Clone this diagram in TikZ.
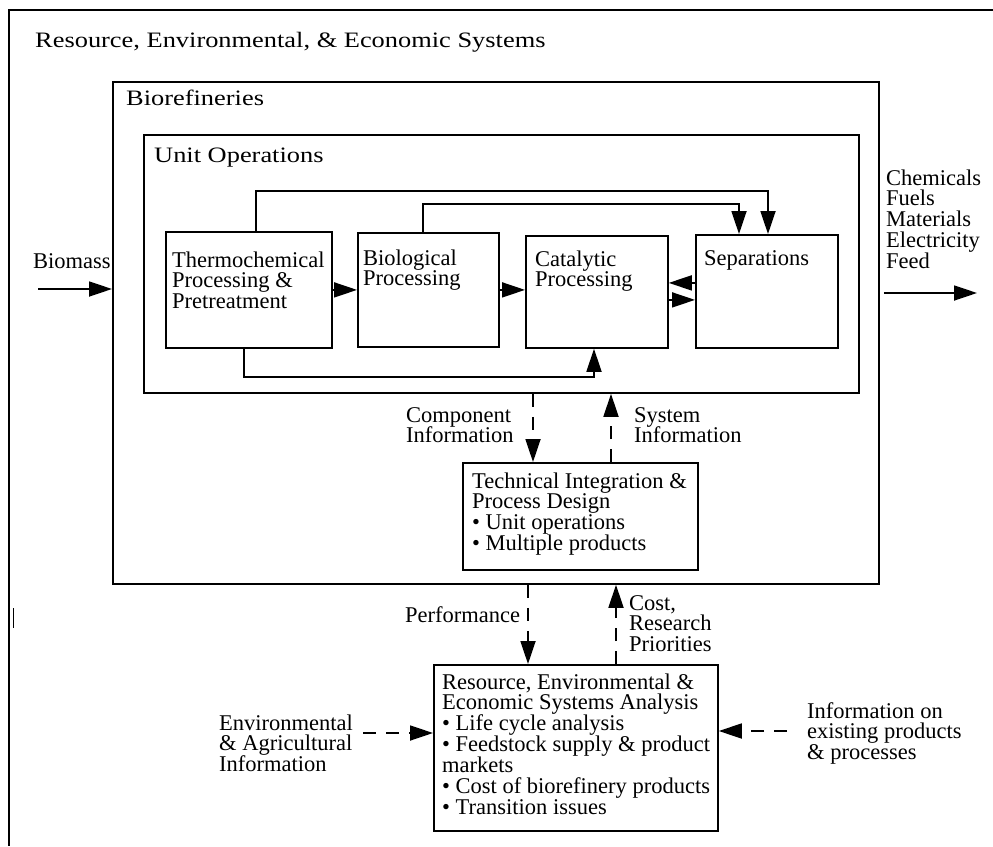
\documentclass[tikz,border=0pt]{standalone}
\usepackage{fontspec}
\setmainfont{Liberation Serif}
\newfontfamily\headfont[FakeStretch=1.2]{Liberation Serif}
\usetikzlibrary{arrows.meta,calc}
\newcommand\mlines[1]{\vtop{\halign{##\hfil\cr#1\crcr}}}
\tikzset{
  box/.style={draw, line width=1.8pt, anchor=north west, inner sep=0pt},
  txt/.style={anchor=base west, inner sep=0pt, font=\fontsize{22.5}{20.9}\selectfont},
  head/.style={anchor=base west, inner sep=0pt, font=\headfont\fontsize{22}{24}\selectfont},
  arr/.style={line width=1.8pt, -{Triangle[length=23pt,width=15pt]}},
  darr/.style={arr, dash pattern=on 13pt off 10pt},
  line/.style={line width=1.8pt},
}
\begin{document}
\begin{tikzpicture}[x=1pt,y=-1pt]
\useasboundingbox (0,0) rectangle (993,846);
% outer frame (cropped)
\draw[line] (993,10) -- (9,10) -- (9,846);
\draw[line width=0.8pt] (13,608) -- (13,628);
\node[head] (title) at (35,47) {Resource, Environmental, \& Economic Systems};

% biorefineries
\node[box, minimum width=766pt, minimum height=502pt] (bioref) at (112,81) {};
\node[head] (bioreft) at (126,105) {Biorefineries};

% unit operations
\node[box, minimum width=715pt, minimum height=258pt] (uo) at (143,134) {};
\node[head] (uot) at (154,162) {Unit Operations};

\node[box, minimum width=166pt, minimum height=116pt] (thermo) at (165,231) {};
\node[txt] (thermot) at (172,267) {\mlines{Thermochemical\cr Processing \&\cr Pretreatment}};
\node[box, minimum width=141pt, minimum height=114pt] (bio) at (357,232) {};
\node[txt] (biot) at (363,265) {\mlines{Biological\cr Processing}};
\node[box, minimum width=142pt, minimum height=112pt] (cat) at (525,235) {};
\node[txt] (catt) at (535,266) {\mlines{Catalytic\cr Processing}};
\node[box, minimum width=142pt, minimum height=113pt] (sep) at (695,234) {};
\node[txt] (sept) at (704,265) {Separations};

% unit operation connectors
\draw[arr] (thermo.east) -- (thermo.east -| bio.west);
\draw[arr] (bio.east) -- (bio.east -| cat.west);
\draw[arr] ([yshift=8.5pt]sep.west) -- ([yshift=8.5pt]sep.west -| cat.east);
\draw[arr] ([yshift=-8.5pt]cat.east |- sep.west) -- ([yshift=-8.5pt]sep.west);
\draw[arr] ([xshift=91pt]thermo.north west) -- ++(0,-40) -| ([xshift=73pt]sep.north west);
\draw[arr] ([xshift=66pt]bio.north west) -- ++(0,-28) -| ([xshift=44pt]sep.north west);
\draw[arr] ([xshift=79pt]thermo.south west) -- ++(0,28) -| ([xshift=69pt]cat.south west);

% inputs / outputs
\node[txt] (biomass) at (33,268) {Biomass};
\coordinate (bms) at (38,289);
\draw[arr] (bms) -- (bms -| bioref.west);
\node[txt] (outputs) at (886,185) {\mlines{Chemicals\cr Fuels\cr Materials\cr Electricity\cr Feed}};
\coordinate (oute) at (977,293);
\draw[arr] ([xshift=4pt]bioref.east |- oute) -- (oute);

% technical integration
\node[box, minimum width=235pt, minimum height=107pt] (tech) at (462,462) {};
\node[txt] (techt) at (472,488) {\mlines{Technical Integration \&\cr Process Design\cr • Unit operations\cr • Multiple products}};
\draw[darr] ([xshift=71pt]tech.north west |- uo.south) -- ([xshift=71pt]tech.north west);
\draw[darr] ([xshift=149pt]tech.north west) -- ([xshift=149pt]tech.north west |- uo.south);
\node[txt] (compinfo) at (406,422) {\mlines{Component\cr Information}};
\node[txt] (sysinfo) at (634,422) {\mlines{System\cr Information}};

% systems analysis
\node[box, minimum width=284pt, minimum height=166pt] (res) at (433,664) {};
\node[txt] (rest) at (442,689) {\mlines{Resource, Environmental \&\cr Economic Systems Analysis\cr • Life cycle analysis\cr • Feedstock supply \& product\cr markets\cr • Cost of biorefinery products\cr • Transition issues}};
\draw[darr] ([xshift=95pt]res.north west |- bioref.south) -- ([xshift=95pt]res.north west);
\draw[darr] ([xshift=183pt]res.north west) -- ([xshift=183pt]res.north west |- bioref.south);
\node[txt] (perf) at (405,622) {Performance};
\node[txt] (cost) at (629,610) {\mlines{Cost,\cr Research\cr Priorities}};

\node[txt] (envinfo) at (219,730) {\mlines{Environmental\cr \& Agricultural\cr Information}};
\coordinate (envs) at (363,733);
\draw[darr] (envs) -- (envs -| res.west);
\node[txt] (exinfo) at (807,718) {\mlines{Information on\cr existing products\cr \& processes}};
\coordinate (infs) at (787,731);
\draw[darr] (infs) -- (infs -| res.east);
\end{tikzpicture}
\end{document}
